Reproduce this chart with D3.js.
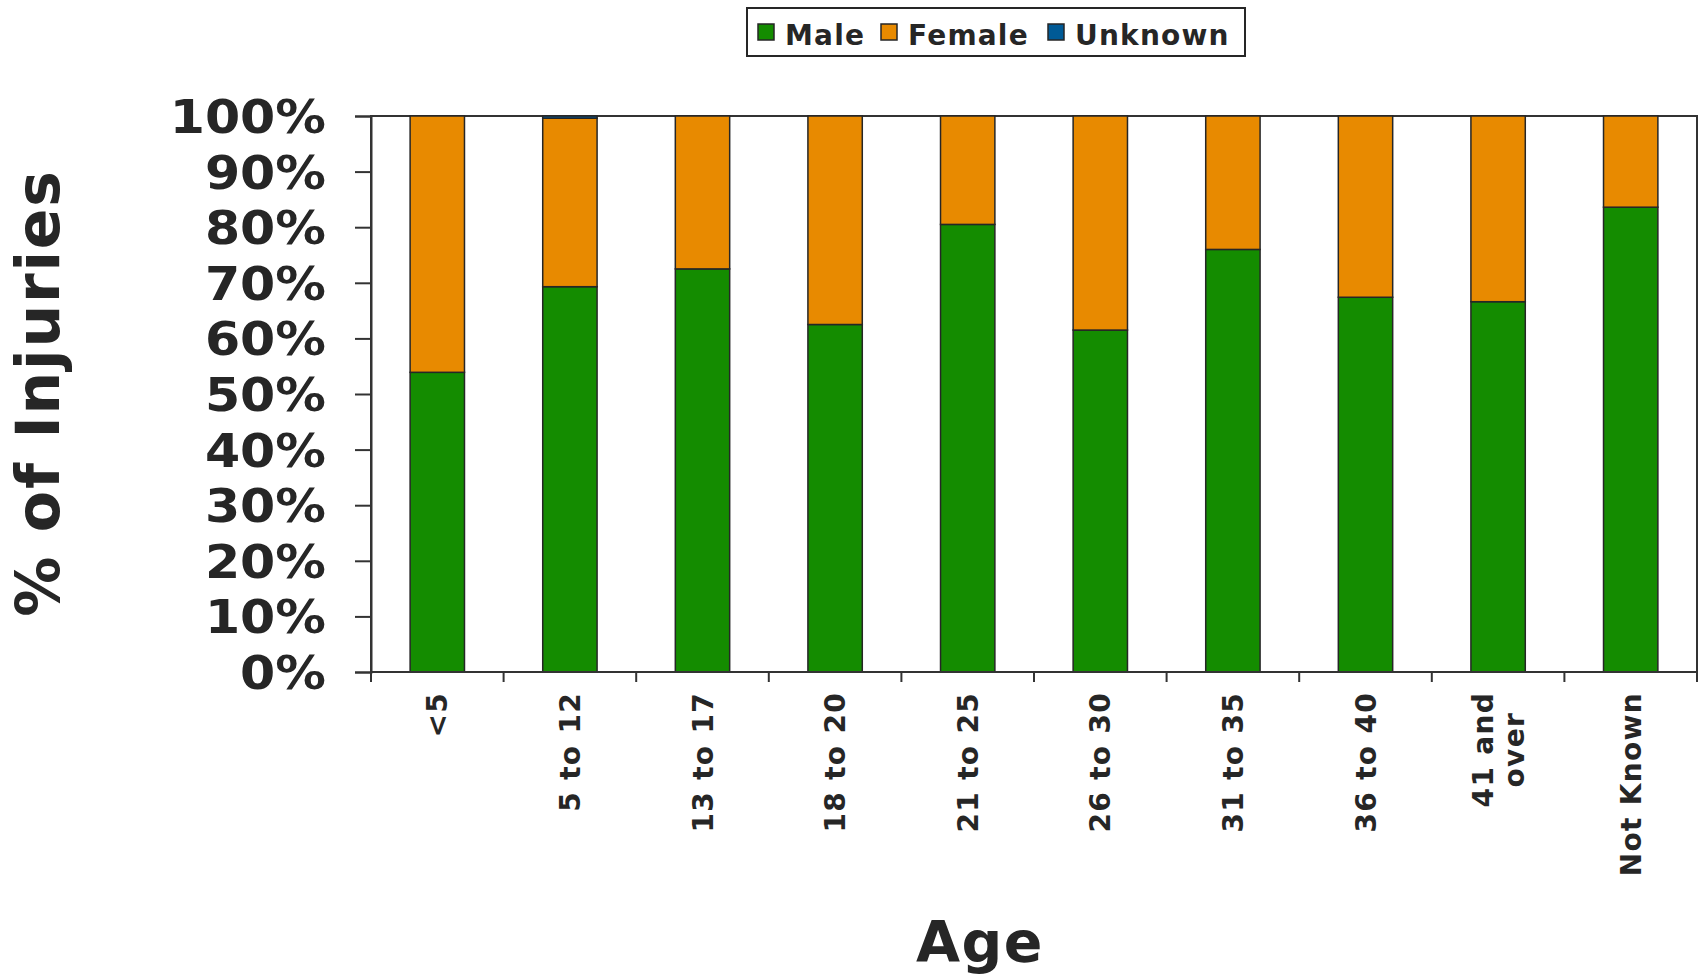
<!DOCTYPE html>
<html>
<head>
<meta charset="utf-8">
<script src="https://cdn.jsdelivr.net/npm/d3@7"></script>
<style>
  body { margin: 0; background: #fff; }
  text { font-family: "DejaVu Sans", Verdana, sans-serif; font-weight: bold; fill: #262626; }
</style>
</head>
<body>
<svg id="chart" width="1702" height="976"></svg>
<script>
var ages = ["<5", "5 to 12", "13 to 17", "18 to 20", "21 to 25", "26 to 30", "31 to 35", "36 to 40", "41 and over", "Not Known"];
var ageLines = [["<5"], ["5 to 12"], ["13 to 17"], ["18 to 20"], ["21 to 25"], ["26 to 30"], ["31 to 35"], ["36 to 40"], ["41 and", "over"], ["Not Known"]];
var male    = [53.9, 69.3, 72.5, 62.5, 80.5, 61.5, 76.0, 67.4, 66.6, 83.6];
var female  = [46.1, 30.3, 27.5, 37.5, 19.5, 38.5, 24.0, 32.6, 33.4, 16.4];
var unknown = [0, 0.4, 0, 0, 0, 0, 0, 0, 0, 0];
var seriesNames = ["Male", "Female", "Unknown"];
var yTicks = [0, 10, 20, 30, 40, 50, 60, 70, 80, 90, 100];

var svg = d3.select("#chart");
var margin = {top: 116, right: 5, bottom: 304, left: 371},
    width = 1702 - margin.left - margin.right,
    height = 976 - margin.top - margin.bottom,
    g = svg.append("g").attr("transform", "translate(" + margin.left + "," + margin.top + ")");

var x = d3.scaleBand().domain(ages).range([0, width]).paddingInner(0.59).paddingOuter(0.295),
    y = d3.scaleLinear().domain([0, 100]).range([height, 0]),
    z = d3.scaleOrdinal().domain(seriesNames).range(["#148c00", "#e88a00", "#005a96"]);

var rows = ages.map(function(a, i) {
  return {age: a, Male: male[i], Female: female[i], Unknown: unknown[i]};
});
var stacked = d3.stack().keys(seriesNames)(rows);

// plot frame
g.append("rect")
  .attr("width", width).attr("height", height)
  .attr("fill", "none").attr("stroke", "#333").attr("stroke-width", 2);

var layer = g.selectAll(".layer")
  .data(stacked)
  .enter().append("g")
  .attr("class", "layer")
  .attr("fill", function(d) { return z(d.key); });

layer.selectAll("rect")
  .data(function(d) { return d; })
  .enter().append("rect")
  .filter(function(d) { return d[1] - d[0] > 0; })
  .attr("x", function(d) { return x(d.data.age); })
  .attr("y", function(d) { return y(d[1]); })
  .attr("width", x.bandwidth())
  .attr("height", function(d) { return y(d[0]) - y(d[1]); })
  .attr("stroke", "#262626")
  .attr("stroke-width", 1.5);

// y axis (labels stretched a little, like the original wide font)
var sx = 1.1;
var yAxis = g.append("g")
  .call(d3.axisLeft(y).tickValues(yTicks).tickSize(16).tickPadding(14).tickFormat(function(d) { return d + "%"; }));
yAxis.select(".domain").attr("stroke", "#333").attr("stroke-width", 2);
yAxis.selectAll(".tick line").attr("stroke", "#333").attr("stroke-width", 2);
yAxis.selectAll(".tick text")
  .style("font-size", "46px")
  .attr("x", -45 / sx)
  .attr("transform", "scale(" + sx + ",1)")
  .attr("dy", "0.36em");

// x axis with ticks at category boundaries
var step = x.step();
var xAxis = g.append("g").attr("transform", "translate(0," + height + ")");
xAxis.append("line").attr("x1", 0).attr("x2", width).attr("stroke", "#333").attr("stroke-width", 2);
xAxis.selectAll(".xt")
  .data(d3.range(ages.length + 1))
  .enter().append("line")
  .attr("x1", function(i) { return i * step; })
  .attr("x2", function(i) { return i * step; })
  .attr("y1", 0).attr("y2", 10)
  .attr("stroke", "#333").attr("stroke-width", 2);

var lbl = xAxis.selectAll(".xl")
  .data(ageLines)
  .enter().append("g")
  .attr("transform", function(d, i) { return "translate(" + (x(ages[i]) + x.bandwidth() / 2) + ",20) rotate(-90)"; });

lbl.each(function(lines) {
  var sel = d3.select(this);
  var lh = 31;
  var off = -(lines.length - 1) * lh / 2;
  var first = sel.append("text")
    .attr("text-anchor", "end")
    .attr("y", off).attr("dy", "0.36em")
    .style("font-size", "28px").style("letter-spacing", "1.3px")
    .text(lines[0]);
  var w = first.node().getComputedTextLength();
  for (var k = 1; k < lines.length; k++) {
    sel.append("text")
      .attr("text-anchor", "middle")
      .attr("x", -w / 2)
      .attr("y", off + k * lh).attr("dy", "0.36em")
      .style("font-size", "28px").style("letter-spacing", "1.3px")
      .text(lines[k]);
  }
});

// axis titles
svg.append("text")
  .attr("transform", "translate(59,393) rotate(-90)")
  .attr("text-anchor", "middle")
  .style("font-size", "60px").style("letter-spacing", "1.8px")
  .text("% of Injuries");

svg.append("text")
  .attr("x", 980).attr("y", 962)
  .attr("text-anchor", "middle")
  .style("font-size", "57px").style("letter-spacing", "1.5px")
  .text("Age");

// legend
var legend = svg.append("g");
legend.append("rect")
  .attr("x", 747).attr("y", 8).attr("width", 498).attr("height", 48)
  .attr("fill", "#fff").attr("stroke", "#262626").attr("stroke-width", 2);
var legX = [758, 881, 1048];
var item = legend.selectAll(".li")
  .data(seriesNames)
  .enter().append("g")
  .attr("transform", function(d, i) { return "translate(" + legX[i] + ",24)"; });
item.append("rect")
  .attr("width", 16).attr("height", 16)
  .attr("fill", function(d) { return z(d); })
  .attr("stroke", "#262626").attr("stroke-width", 1.5);
item.append("text")
  .attr("x", 27).attr("y", 20.5)
  .style("font-size", "28px").style("letter-spacing", "1.2px")
  .text(function(d) { return d; });
</script>
</body>
</html>
